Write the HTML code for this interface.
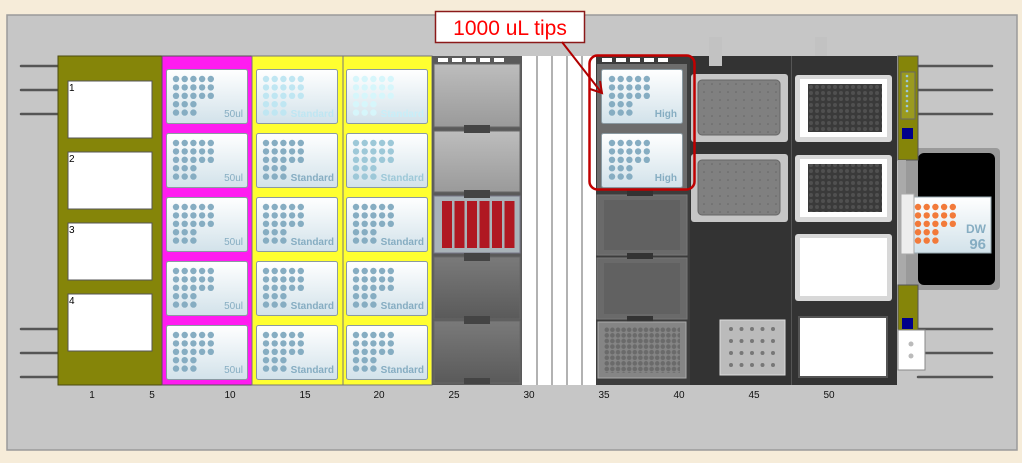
<!DOCTYPE html>
<html><head><meta charset="utf-8"><style>
html,body{margin:0;padding:0;background:#f6ecd9;}
svg{display:block}
text{font-family:"Liberation Sans",sans-serif}
</style></head><body>
<svg width="1022" height="463" viewBox="0 0 1022 463" xmlns="http://www.w3.org/2000/svg">
<defs>
<linearGradient id="tg" x1="0" y1="0" x2="0" y2="1"><stop offset="0" stop-color="#ffffff"/><stop offset="1" stop-color="#d2e2ea"/></linearGradient>
<linearGradient id="gb" x1="0" y1="0" x2="0" y2="1"><stop offset="0" stop-color="#bdbdbd"/><stop offset="1" stop-color="#9a9a9a"/></linearGradient>
<linearGradient id="gd" x1="0" y1="0" x2="0" y2="1"><stop offset="0" stop-color="#7a7a7a"/><stop offset="1" stop-color="#5a5a5a"/></linearGradient>
<pattern id="p384" x="604" y="327" width="5.6" height="5.6" patternUnits="userSpaceOnUse"><circle cx="2.8" cy="2.8" r="2.3" fill="#6a6a6a"/></pattern>
<pattern id="pdk" x="808" y="84" width="6" height="6" patternUnits="userSpaceOnUse"><rect width="6" height="6" fill="#3a3a3a"/><circle cx="3" cy="3" r="2" fill="#505050"/></pattern>
<pattern id="pgr" x="700" y="80" width="8" height="8" patternUnits="userSpaceOnUse"><rect width="8" height="8" fill="#808080"/><circle cx="4" cy="4" r="0.8" fill="#666"/></pattern>
<g id="dots">
<g fill="currentColor">
<circle cx="10" cy="10" r="3.2"/><circle cx="18.7" cy="10" r="3.2"/><circle cx="27.4" cy="10" r="3.2"/><circle cx="36.1" cy="10" r="3.2"/><circle cx="44.8" cy="10" r="3.2"/>
<circle cx="10" cy="18.4" r="3.2"/><circle cx="18.7" cy="18.4" r="3.2"/><circle cx="27.4" cy="18.4" r="3.2"/><circle cx="36.1" cy="18.4" r="3.2"/><circle cx="44.8" cy="18.4" r="3.2"/>
<circle cx="10" cy="26.8" r="3.2"/><circle cx="18.7" cy="26.8" r="3.2"/><circle cx="27.4" cy="26.8" r="3.2"/><circle cx="36.1" cy="26.8" r="3.2"/><circle cx="44.8" cy="26.8" r="3.2"/>
<circle cx="10" cy="35.2" r="3.2"/><circle cx="18.7" cy="35.2" r="3.2"/><circle cx="27.4" cy="35.2" r="3.2"/>
<circle cx="10" cy="43.6" r="3.2"/><circle cx="18.7" cy="43.6" r="3.2"/><circle cx="27.4" cy="43.6" r="3.2"/>
</g></g>
<g id="tb"><rect x="0.5" y="0.5" width="81" height="54" rx="2" fill="url(#tg)" stroke="#8a9aa2"/></g>
</defs>
<rect x="0" y="0" width="1022" height="463" fill="#f6ecd9"/>
<rect x="7" y="15" width="1010" height="435" fill="#c6c6c6" stroke="#9a9a9a" stroke-width="1.5"/>
<g stroke="#555" stroke-width="2.5" stroke-linecap="round">
<line x1="21" y1="66" x2="58" y2="66"/><line x1="21" y1="90" x2="58" y2="90"/><line x1="21" y1="114" x2="58" y2="114"/>
<line x1="21" y1="329" x2="58" y2="329"/><line x1="21" y1="353" x2="58" y2="353"/><line x1="21" y1="377" x2="58" y2="377"/>
<line x1="918" y1="66" x2="992" y2="66"/><line x1="918" y1="90" x2="992" y2="90"/><line x1="918" y1="114" x2="992" y2="114"/>
<line x1="918" y1="329" x2="992" y2="329"/><line x1="918" y1="353" x2="992" y2="353"/><line x1="918" y1="377" x2="992" y2="377"/>
</g>
<rect x="58" y="56" width="104" height="329" fill="#858509" stroke="#4a4a10"/>
<g fill="#fff" stroke="#555">
<rect x="68" y="81" width="84" height="57"/><rect x="68" y="152" width="84" height="57"/><rect x="68" y="223" width="84" height="57"/><rect x="68" y="294" width="84" height="57"/>
</g>
<g font-size="10" fill="#000"><text x="69" y="91">1</text><text x="69" y="162">2</text><text x="69" y="233">3</text><text x="69" y="304">4</text></g>
<rect x="162" y="56" width="90" height="329" fill="#ff1cf0" stroke="#555"/>
<rect x="252" y="56" width="91" height="329" fill="#ffff30" stroke="#777"/>
<rect x="343" y="56" width="89" height="329" fill="#ffff30" stroke="#777"/>
<g>
<g transform="translate(166,69)"><use href="#tb"/><use href="#dots" color="#86adc2"/><text x="77" y="48" font-size="10" fill="#86adc2" text-anchor="end">50ul</text></g>
<g transform="translate(166,133)"><use href="#tb"/><use href="#dots" color="#86adc2"/><text x="77" y="48" font-size="10" fill="#86adc2" text-anchor="end">50ul</text></g>
<g transform="translate(166,197)"><use href="#tb"/><use href="#dots" color="#86adc2"/><text x="77" y="48" font-size="10" fill="#86adc2" text-anchor="end">50ul</text></g>
<g transform="translate(166,261)"><use href="#tb"/><use href="#dots" color="#86adc2"/><text x="77" y="48" font-size="10" fill="#86adc2" text-anchor="end">50ul</text></g>
<g transform="translate(166,325)"><use href="#tb"/><use href="#dots" color="#86adc2"/><text x="77" y="48" font-size="10" fill="#86adc2" text-anchor="end">50ul</text></g>
</g>
<g font-size="10" font-weight="bold" text-anchor="end">
<g transform="translate(256,69)"><use href="#tb"/><use href="#dots" color="#bfe6f2"/><text x="78" y="48" fill="#bfe6f2">Standard</text></g>
<g transform="translate(256,133)"><use href="#tb"/><use href="#dots" color="#86adc2"/><text x="78" y="48" fill="#86adc2">Standard</text></g>
<g transform="translate(256,197)"><use href="#tb"/><use href="#dots" color="#86adc2"/><text x="78" y="48" fill="#86adc2">Standard</text></g>
<g transform="translate(256,261)"><use href="#tb"/><use href="#dots" color="#86adc2"/><text x="78" y="48" fill="#86adc2">Standard</text></g>
<g transform="translate(256,325)"><use href="#tb"/><use href="#dots" color="#86adc2"/><text x="78" y="48" fill="#86adc2">Standard</text></g>
<g transform="translate(346,69)"><use href="#tb"/><use href="#dots" color="#d6f6fb"/><text x="78" y="48" fill="#c8eef8">Standard</text></g>
<g transform="translate(346,133)"><use href="#tb"/><use href="#dots" color="#9dc8d8"/><text x="78" y="48" fill="#9dc8d8">Standard</text></g>
<g transform="translate(346,197)"><use href="#tb"/><use href="#dots" color="#86adc2"/><text x="78" y="48" fill="#86adc2">Standard</text></g>
<g transform="translate(346,261)"><use href="#tb"/><use href="#dots" color="#86adc2"/><text x="78" y="48" fill="#86adc2">Standard</text></g>
<g transform="translate(346,325)"><use href="#tb"/><use href="#dots" color="#86adc2"/><text x="78" y="48" fill="#86adc2">Standard</text></g>
</g>
<rect x="432" y="56" width="90" height="329" fill="#5a5a5a"/>
<g fill="#fff"><rect x="438" y="58" width="10" height="4"/><rect x="452" y="58" width="10" height="4"/><rect x="466" y="58" width="10" height="4"/><rect x="480" y="58" width="10" height="4"/><rect x="494" y="58" width="10" height="4"/></g>
<g stroke="#666" stroke-width="1">
<rect x="434" y="64" width="86" height="63" fill="url(#gb)"/>
<rect x="434" y="131" width="86" height="61" fill="url(#gb)"/>
<rect x="434" y="196" width="86" height="57" fill="#a9b3b9" stroke="#778"/>
<rect x="434" y="257" width="86" height="62" fill="url(#gd)"/>
<rect x="434" y="321" width="86" height="62" fill="url(#gd)"/>
</g>
<g fill="#444"><rect x="464" y="125" width="26" height="8"/><rect x="464" y="190" width="26" height="8"/><rect x="464" y="253" width="26" height="8"/><rect x="464" y="316" width="26" height="8"/><rect x="464" y="378" width="26" height="6"/></g>
<g fill="#b01822"><rect x="442" y="201" width="10" height="47"/><rect x="454.5" y="201" width="10" height="47"/><rect x="467" y="201" width="10" height="47"/><rect x="479.5" y="201" width="10" height="47"/><rect x="492" y="201" width="10" height="47"/><rect x="504.5" y="201" width="10" height="47"/></g>
<rect x="522" y="56" width="74" height="329" fill="#fff"/>
<g stroke="#999" stroke-width="1.5"><line x1="537" y1="56" x2="537" y2="385"/><line x1="552" y1="56" x2="552" y2="385"/><line x1="567" y1="56" x2="567" y2="385"/><line x1="582" y1="56" x2="582" y2="385"/></g>
<rect x="596" y="56" width="94" height="329" fill="#3c3c3c"/>
<g fill="#fff"><rect x="602" y="58" width="10" height="4"/><rect x="616" y="58" width="10" height="4"/><rect x="630" y="58" width="10" height="4"/><rect x="644" y="58" width="10" height="4"/><rect x="658" y="58" width="10" height="4"/></g>
<rect x="597" y="64" width="90" height="126" fill="#6d6d6d"/>
<g font-size="10" font-weight="bold" text-anchor="end">
<g transform="translate(601,69)"><use href="#tb"/><use href="#dots" color="#86adc2" transform="translate(1,0)"/><text x="76" y="48" fill="#86adc2">High</text></g>
<g transform="translate(601,133)"><use href="#tb"/><use href="#dots" color="#86adc2" transform="translate(1,0)"/><text x="76" y="48" fill="#86adc2">High</text></g>
</g>
<rect x="597" y="195" width="90" height="60" fill="#6a6a6a" stroke="#777"/><rect x="604" y="200" width="76" height="50" fill="#616161"/>
<rect x="597" y="258" width="90" height="61" fill="#6a6a6a" stroke="#777"/><rect x="604" y="263" width="76" height="51" fill="#616161"/>
<g fill="#333"><rect x="627" y="190" width="26" height="6"/><rect x="627" y="253" width="26" height="6"/><rect x="627" y="316" width="26" height="6"/></g>
<rect x="598" y="322" width="88" height="56" fill="#858585" stroke="#aaa"/>
<rect x="604" y="327" width="76" height="46" fill="url(#p384)"/>
<rect x="690" y="56" width="101" height="329" fill="#333"/>
<rect x="709" y="37" width="13" height="29" fill="#c2c2c2"/>
<rect x="815" y="37" width="12" height="29" fill="#c2c2c2"/>
<rect x="691" y="74" width="97" height="68" rx="3" fill="#c6c6c6"/><rect x="698" y="80" width="82" height="55" rx="4" fill="url(#pgr)" stroke="#666"/>
<rect x="691" y="154" width="97" height="68" rx="3" fill="#c6c6c6"/><rect x="698" y="160" width="82" height="55" rx="4" fill="url(#pgr)" stroke="#666"/>
<rect x="720" y="320" width="65" height="55" fill="#bbb" stroke="#ddd"/>
<g fill="#777">
<circle cx="731" cy="329" r="2"/><circle cx="741.5" cy="329" r="2"/><circle cx="752" cy="329" r="2"/><circle cx="762.5" cy="329" r="2"/><circle cx="773" cy="329" r="2"/>
<circle cx="731" cy="341" r="2"/><circle cx="741.5" cy="341" r="2"/><circle cx="752" cy="341" r="2"/><circle cx="762.5" cy="341" r="2"/><circle cx="773" cy="341" r="2"/>
<circle cx="731" cy="353" r="2"/><circle cx="741.5" cy="353" r="2"/><circle cx="752" cy="353" r="2"/><circle cx="762.5" cy="353" r="2"/><circle cx="773" cy="353" r="2"/>
<circle cx="731" cy="365" r="2"/><circle cx="741.5" cy="365" r="2"/><circle cx="752" cy="365" r="2"/><circle cx="762.5" cy="365" r="2"/><circle cx="773" cy="365" r="2"/>
</g>
<rect x="792" y="56" width="105" height="329" fill="#333"/>
<line x1="791.5" y1="56" x2="791.5" y2="385" stroke="#555"/>
<rect x="795" y="75" width="97" height="67" rx="3" fill="#d8d8d8"/><rect x="800" y="79" width="87" height="58" fill="#fff"/><rect x="808" y="84" width="74" height="48" fill="url(#pdk)"/>
<rect x="795" y="155" width="97" height="67" rx="3" fill="#d8d8d8"/><rect x="800" y="159" width="87" height="58" fill="#fff"/><rect x="808" y="164" width="74" height="48" fill="url(#pdk)"/>
<rect x="795" y="234" width="97" height="67" rx="3" fill="#d8d8d8"/><rect x="800" y="238" width="87" height="58" fill="#fff"/>
<rect x="798" y="316" width="90" height="62" fill="#555"/><rect x="800" y="318" width="86" height="58" fill="#fff"/>
<rect x="903" y="148" width="97" height="142" rx="4" fill="#9a9a9a"/>
<rect x="918" y="153" width="77" height="132" rx="6" fill="#000"/>
<rect x="898" y="56" width="20" height="104" fill="#858509" stroke="#555"/>
<rect x="901" y="72" width="14" height="47" fill="#9a9a20" stroke="#666"/>
<g fill="#9cc8dc"><circle cx="907" cy="76" r="1.3"/><circle cx="907" cy="81" r="1.3"/><circle cx="907" cy="86" r="1.3"/><circle cx="907" cy="91" r="1.3"/><circle cx="907" cy="96" r="1.3"/><circle cx="907" cy="101" r="1.3"/><circle cx="907" cy="106" r="1.3"/><circle cx="907" cy="111" r="1.3"/></g>
<rect x="902" y="128" width="11" height="11" fill="#00008a"/>
<rect x="898" y="160" width="8" height="125" fill="#aaa"/>
<rect x="898" y="285" width="20" height="45" fill="#858509" stroke="#555"/>
<rect x="902" y="318" width="11" height="11" fill="#00008a"/>
<rect x="898" y="330" width="27" height="40" fill="#fff" stroke="#888"/>
<circle cx="911" cy="344" r="2.5" fill="#bbb"/><circle cx="911" cy="356" r="2.5" fill="#bbb"/>
<rect x="910" y="197" width="81" height="56" fill="url(#tg)" stroke="#99aab2"/>
<rect x="901" y="194" width="13" height="60" fill="#eee" stroke="#aaa"/>
<g transform="translate(908,197)"><use href="#dots" color="#f27a3a"/></g>
<text x="986" y="233" font-size="12" font-weight="bold" fill="#86adc2" text-anchor="end">DW</text>
<text x="986" y="249" font-size="15" font-weight="bold" fill="#86adc2" text-anchor="end">96</text>
<g font-size="10" fill="#111" text-anchor="middle">
<text x="92" y="398">1</text><text x="152" y="398">5</text><text x="230" y="398">10</text><text x="305" y="398">15</text><text x="379" y="398">20</text><text x="454" y="398">25</text><text x="529" y="398">30</text><text x="604" y="398">35</text><text x="679" y="398">40</text><text x="754" y="398">45</text><text x="829" y="398">50</text>
</g>
<rect x="589.5" y="55.5" width="105" height="134" rx="8" fill="none" stroke="#c00000" stroke-width="2.5"/>
<rect x="435.5" y="11.5" width="149" height="31" fill="#fff" stroke="#8b1a1a" stroke-width="1.5"/>
<text x="510" y="35" font-size="21" fill="#f00" text-anchor="middle">1000 uL tips</text>
<line x1="562" y1="42" x2="601" y2="92" stroke="#b00000" stroke-width="2"/>
<polyline points="600,81 602,93 590,89" fill="none" stroke="#b00000" stroke-width="2"/>
</svg>
</body></html>
